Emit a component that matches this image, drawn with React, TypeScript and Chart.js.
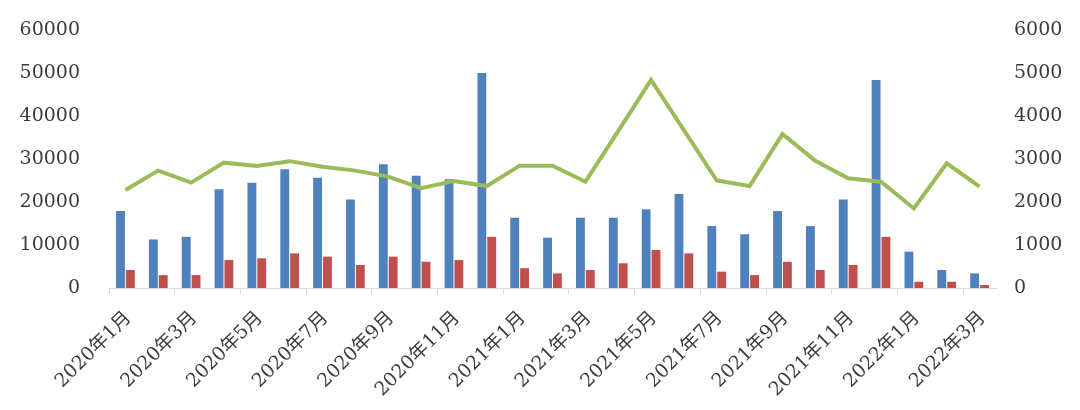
import React, { useEffect, useRef } from "react";
import { Chart, registerables } from "chart.js";

Chart.register(...registerables);

const months: string[] = [
  "2020年1月", "2020年2月", "2020年3月", "2020年4月", "2020年5月", "2020年6月",
  "2020年7月", "2020年8月", "2020年9月", "2020年10月", "2020年11月", "2020年12月",
  "2021年1月", "2021年2月", "2021年3月", "2021年4月", "2021年5月", "2021年6月",
  "2021年7月", "2021年8月", "2021年9月", "2021年10月", "2021年11月", "2021年12月",
  "2022年1月", "2022年2月", "2022年3月",
];

const blueValues: number[] = [
  17900, 11300, 11900, 22950, 24500, 27600, 25650, 20600, 28800, 26100, 25300, 50000,
  16350, 11700, 16350, 16350, 18300, 21860, 14400, 12500, 17900, 14400, 20600, 48400,
  8450, 4200, 3400,
];

const redValues: number[] = [
  4200, 3000, 3000, 6500, 6900, 8050, 7300, 5350, 7300, 6100, 6500, 11900,
  4600, 3400, 4200, 5750, 8850, 8050, 3800, 3000, 6100, 4200, 5350, 11900,
  1450, 1450, 700,
];

const greenValues: number[] = [
  2280, 2730, 2450, 2915, 2840, 2950, 2820, 2730, 2590, 2320, 2490, 2370,
  2845, 2845, 2470, 3650, 4840, 3670, 2500, 2370, 3580, 2960, 2550, 2470,
  1850, 2900, 2355,
];

const leftTicks = { min: 0, max: 60000, step: 10000 };
const rightTicks = { min: 0, max: 6000, step: 1000 };

const FONT = "'DejaVu Serif', 'Noto Sans CJK SC', serif";
const TEXT = "#3c3c3c";

export default function App() {
  const ref = useRef<HTMLCanvasElement | null>(null);

  useEffect(() => {
    if (!ref.current) return;
    const chart = new Chart(ref.current, {
      type: "bar",
      data: {
        labels: months,
        datasets: [
          {
            type: "line",
            label: "green",
            data: greenValues,
            yAxisID: "y1",
            borderColor: "#9BBB59",
            backgroundColor: "#9BBB59",
            borderWidth: 4,
            pointRadius: 0,
            tension: 0,
            order: 0,
          } as any,
          {
            type: "bar",
            label: "blue",
            data: blueValues,
            yAxisID: "y",
            backgroundColor: "#4F81BD",
            borderWidth: 0,
            categoryPercentage: 0.6,
            barPercentage: 0.9,
            order: 1,
          },
          {
            type: "bar",
            label: "red",
            data: redValues,
            yAxisID: "y",
            backgroundColor: "#C0504D",
            borderWidth: 0,
            categoryPercentage: 0.6,
            barPercentage: 0.9,
            order: 1,
          },
        ],
      },
      options: {
        animation: false,
        responsive: false,
        maintainAspectRatio: false,
        layout: { padding: { left: 18, right: 18, top: 30, bottom: 10 } },
        plugins: { legend: { display: false }, tooltip: { enabled: false } },
        scales: {
          x: {
            offset: true,
            afterFit: (s: any) => {
              s.paddingLeft = 0;
              s.paddingRight = 0;
              s.paddingTop = 0;
              s.paddingBottom = 0;
              s.height = 112;
            },
            grid: {
              offset: true,
              drawOnChartArea: false,
              drawTicks: true,
              tickLength: 6,
              color: (ctx: any) => (ctx.index % 2 === 0 ? "#d9d9d9" : "rgba(0,0,0,0)"),
            },
            border: { display: true, color: "#d9d9d9", width: 1 },
            ticks: {
              autoSkip: false,
              maxRotation: 45,
              minRotation: 45,
              padding: 13,
              labelOffset: 3,
              color: TEXT,
              font: { family: FONT, size: 19 },
              callback: (_v: any, i: number) => (i % 2 === 0 ? months[i] : ""),
            },
          },
          y: {
            position: "left",
            min: leftTicks.min,
            max: leftTicks.max,
            afterFit: (s: any) => {
              s.paddingTop = 0;
              s.paddingBottom = 0;
              s.width = 91;
            },
            grid: { display: false, drawTicks: false },
            border: { display: false },
            ticks: {
              stepSize: leftTicks.step,
              padding: 29,
              color: TEXT,
              font: { family: FONT, size: 19 },
              callback: (v: any) => String(v),
            },
          },
          y1: {
            position: "right",
            min: rightTicks.min,
            max: rightTicks.max,
            afterFit: (s: any) => {
              s.paddingTop = 0;
              s.paddingBottom = 0;
              s.width = 66;
            },
            grid: { display: false, drawTicks: false },
            border: { display: false },
            ticks: {
              stepSize: rightTicks.step,
              padding: 18,
              color: TEXT,
              font: { family: FONT, size: 19 },
              callback: (v: any) => String(v),
            },
          },
        },
      },
    });
    return () => chart.destroy();
  }, []);

  return (
    <div style={{ position: "fixed", left: 0, top: 0, width: 1080, height: 410, background: "#fff" }}>
      <canvas ref={ref} width={1080} height={410} style={{ width: 1080, height: 410 }} />
    </div>
  );
}
